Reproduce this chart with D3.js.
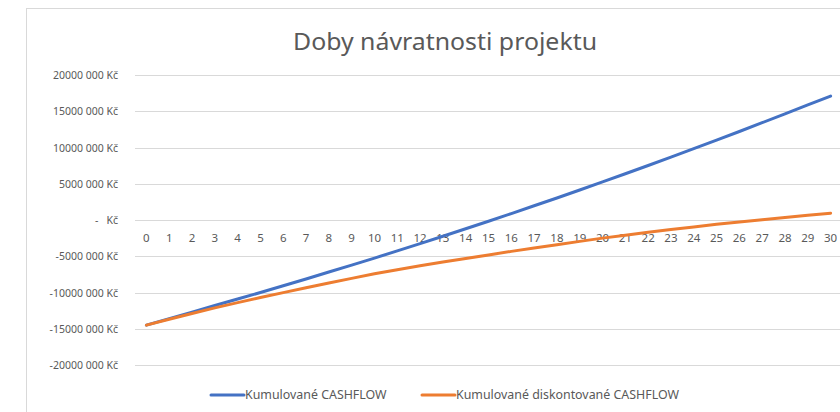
<!DOCTYPE html>
<html>
<head>
<meta charset="utf-8">
<script src="https://cdn.jsdelivr.net/npm/d3@7/dist/d3.min.js"></script>
<style>
  body { margin: 0; background: #fff; }
  text { font-family: "Noto Sans", "Open Sans", sans-serif; fill: #595959; }
</style>
</head>
<body>
<div id="chart"></div>
<script>
(function() {
  var width = 840, height = 412;

  // roky projektu
  var years = d3.range(0, 31);

  // kumulované cashflow v Kč
  var cashflow = [
    -14500000, -13600000, -12700000, -11800000, -10900000, -10000000,
    -9070000, -8130000, -7180000, -6220000, -5250000, -4260000,
    -3260000, -2240000, -1210000, -170000, 890000, 1960000,
    3040000, 4140000, 5250000, 6380000, 7520000, 8670000,
    9840000, 11020000, 12210000, 13420000, 14640000, 15880000, 17100000
  ];

  // kumulované diskontované cashflow v Kč
  var discounted = [
    -14500000, -13700000, -12900000, -12120000, -11400000, -10700000,
    -10020000, -9350000, -8700000, -8050000, -7420000, -6860000,
    -6320000, -5800000, -5300000, -4820000, -4330000, -3860000,
    -3400000, -2950000, -2500000, -2100000, -1700000, -1320000,
    -950000, -600000, -280000, 30000, 340000, 640000, 930000
  ];

  var yTicks = [20000000, 15000000, 10000000, 5000000, 0, -5000000, -10000000, -15000000, -20000000];

  var seriesNames = ["Kumulované CASHFLOW", "Kumulované diskontované CASHFLOW"];
  var colors = ["#4472C4", "#ED7D31"];

  var svg = d3.select("#chart")
    .append("svg")
    .attr("width", width)
    .attr("height", height);

  // rámeček grafu
  svg.append("rect")
    .attr("x", 26.5).attr("y", 8.5)
    .attr("width", 840).attr("height", 420)
    .attr("fill", "none")
    .attr("stroke", "#d9d9d9");

  svg.append("text")
    .attr("x", 445).attr("y", 50)
    .attr("text-anchor", "middle")
    .attr("textLength", 304)
    .attr("lengthAdjust", "spacingAndGlyphs")
    .style("font-size", "24px")
    .text("Doby návratnosti projektu");

  var xScale = d3.scalePoint().domain(years).range([135, 842]).padding(0.5);
  var yScale = d3.scaleLinear().domain([-20000000, 20000000]).range([365, 75]);

  // mřížka
  svg.selectAll(".grid")
    .data(yTicks)
    .enter().append("line")
    .attr("class", "grid")
    .attr("x1", 135).attr("x2", 845)
    .attr("y1", function(d) { return Math.round(yScale(d)) + 0.5; })
    .attr("y2", function(d) { return Math.round(yScale(d)) + 0.5; })
    .attr("stroke", "#d9d9d9")
    .attr("stroke-width", 1);

  function fmt(v) {
    if (v === 0) return "-   Kč";
    var a = Math.abs(v) / 1000;
    return (v < 0 ? "-" : "") + a + " 000 Kč";
  }

  svg.selectAll(".ylabel")
    .data(yTicks)
    .enter().append("text")
    .attr("class", "ylabel")
    .attr("x", 118)
    .attr("y", function(d) { return yScale(d) + 4; })
    .attr("text-anchor", "end")
    .style("font-size", "10.5px")
    .style("white-space", "pre")
    .text(fmt);

  svg.selectAll(".xlabel")
    .data(years)
    .enter().append("text")
    .attr("class", "xlabel")
    .attr("x", function(d) { return xScale(d); })
    .attr("y", yScale(0) + 22)
    .attr("text-anchor", "middle")
    .style("font-size", "11.5px")
    .text(function(d) { return d; });

  var line = d3.line()
    .x(function(d, i) { return xScale(years[i]); })
    .y(function(d) { return yScale(d); });

  [cashflow, discounted].forEach(function(s, i) {
    svg.append("path")
      .datum(s)
      .attr("d", line)
      .attr("fill", "none")
      .attr("stroke", colors[i])
      .attr("stroke-width", 3)
      .attr("stroke-linecap", "round");
  });

  // legenda
  var legendX = [211, 422];
  seriesNames.forEach(function(name, i) {
    svg.append("line")
      .attr("x1", legendX[i]).attr("x2", legendX[i] + 33)
      .attr("y1", 395).attr("y2", 395)
      .attr("stroke", colors[i])
      .attr("stroke-width", 3)
      .attr("stroke-linecap", "round");
    svg.append("text")
      .attr("x", legendX[i] + 34)
      .attr("y", 399)
      .style("font-size", "12.4px")
      .text(name);
  });
})();
</script>
</body>
</html>
